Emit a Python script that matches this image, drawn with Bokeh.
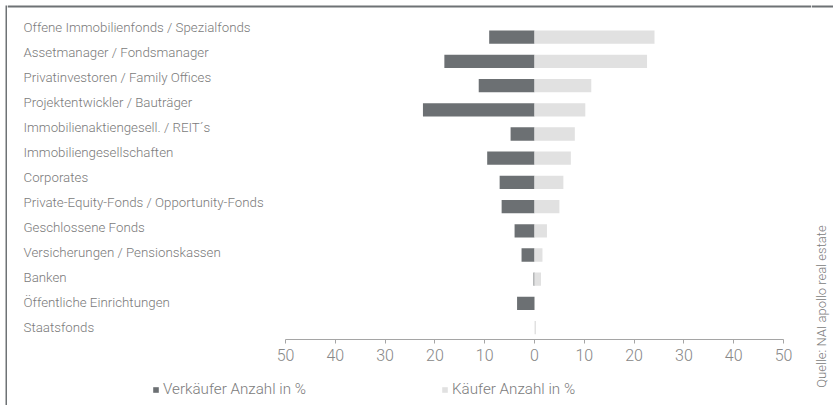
import math
from bokeh.plotting import figure
from bokeh.layouts import row, column
from bokeh.models import (Range1d, ColumnDataSource, LabelSet, Label, Legend, LegendItem,
                          FixedTicker, Span, BoxAnnotation)
from bokeh.core.properties import value
from bokeh.embed import file_html
from bokeh.resources import INLINE

# ---------------- data ----------------
categories = [
    "Offene Immobilienfonds / Spezialfonds",
    "Assetmanager / Fondsmanager",
    "Privatinvestoren / Family Offices",
    "Projektentwickler / Bauträger",
    "Immobilienaktiengesell. / REIT´s",
    "Immobiliengesellschaften",
    "Corporates",
    "Private-Equity-Fonds / Opportunity-Fonds",
    "Geschlossene Fonds",
    "Versicherungen / Pensionskassen",
    "Banken",
    "Öffentliche Einrichtungen",
    "Staatsfonds",
]
verkaeufer = [9.1, 18.1, 11.2, 22.4, 4.8, 9.5, 7.0, 6.6, 4.0, 2.6, 0.2, 3.5, 0.0]
kaeufer = [24.1, 22.6, 11.4, 10.2, 8.1, 7.3, 5.8, 5.0, 2.5, 1.6, 1.3, 0.0, 0.3]
tick_values = [-50, -40, -30, -20, -10, 0, 10, 20, 30, 40, 50]
tick_labels = ["50", "40", "30", "20", "10", "0", "10", "20", "30", "40", "50"]
series_names = ["Verkäufer Anzahl in %", "Käufer Anzahl in %"]
source_text = "Quelle: NAI apollo real estate"

# ---------------- styling ----------------
DARK = "#6c7073"
LIGHT = "#e1e1e1"
TEXT = "#7b7b7b"
AXIS = "#a5a5a5"
FRAME = "#6e7275"
FONT_S = "Roboto Light, Liberation Sans"
FONT = value(FONT_S)

H = 405
LW, CW, RW = 7, 804, 22          # left frame strip, chart, source-note strip
TOP_H, AX_H = 339, 31            # chart frame height, axis panel height
LEG_H = H - TOP_H - AX_H
n = len(categories)
pos = [n - 1 - i for i in range(n)]


def bare(width, height, xr, yr):
    f = figure(width=width, height=height, x_range=xr, y_range=yr,
               x_axis_location=None, y_axis_location=None,
               output_backend="svg", toolbar_location=None,
               min_border=0)
    f.grid.visible = False
    f.outline_line_color = None
    f.background_fill_color = "white"
    f.border_fill_color = "white"
    return f


# ---------------- main chart ----------------
bar_step, bar_top = 24.2, 36.7
lab_step, lab_top = 25.0, 27.0
y_end = (bar_top + bar_step * (n - 1)) / bar_step
y_start = y_end - TOP_H / bar_step
ly_end = (lab_top + lab_step * (n - 1)) / lab_step
ly_start = ly_end - TOP_H / lab_step

px_per_unit = 4.98
x_start = -50 - (285 - LW) / px_per_unit
x_end = x_start + CW / px_per_unit

p = figure(width=CW, height=TOP_H + AX_H, x_range=Range1d(x_start, x_end),
           y_range=Range1d(y_start, y_end), y_axis_location=None,
           output_backend="svg", toolbar_location=None,
           min_border_left=0, min_border_right=0, min_border_top=0,
           min_border_bottom=AX_H)
p.extra_y_ranges = {"lab": Range1d(ly_start, ly_end)}
p.grid.visible = False
p.outline_line_color = None
p.background_fill_color = "white"
p.border_fill_color = "white"

src = ColumnDataSource(dict(y=pos, ylab=pos, cat=categories,
                            vneg=[-v for v in verkaeufer], k=kaeufer,
                            zero=[0] * n))
bh = 13.3 / bar_step
p.hbar(y="y", left="vneg", right="zero", height=bh, source=src,
       fill_color=DARK, line_color=None)
p.hbar(y="y", left="zero", right="k", height=bh, source=src,
       fill_color=LIGHT, line_color=None)

p.add_layout(LabelSet(x=23 - LW, y="ylab", text="cat", x_units="screen",
                      y_range_name="lab", source=src, text_align="left",
                      text_baseline="middle", text_font=FONT,
                      text_font_size="13.3px", text_color=TEXT))

ax = p.xaxis[0]
ax.ticker = FixedTicker(ticks=tick_values)
ax.major_label_overrides = {t: l for t, l in zip(tick_values, tick_labels)}
ax.bounds = (-50, 50)
ax.axis_line_color = AXIS
ax.major_tick_line_color = AXIS
ax.major_tick_in = 0
ax.major_tick_out = 4
ax.minor_tick_line_color = None
ax.major_label_text_font = FONT_S
ax.major_label_text_font_size = "16px"
ax.major_label_text_color = "#888888"
ax.major_label_standoff = 5

p.add_layout(Span(location=y_end - 6 / bar_step, dimension="width",
                  line_color=FRAME, line_width=2))

# ---------------- legend strip ----------------
leg = bare(CW, LEG_H, Range1d(0, 1), Range1d(100, 101))
lv = leg.hbar(y="y", left="vneg", right="zero", height=bh, source=src,
              fill_color=DARK, line_color=None)
lk = leg.hbar(y="y", left="zero", right="k", height=bh, source=src,
              fill_color=LIGHT, line_color=None)
leg.add_layout(Legend(items=[LegendItem(label=series_names[0], renderers=[lv]),
                             LegendItem(label=series_names[1], renderers=[lk])],
                      orientation="horizontal", location=(152 - LW, 7), margin=0,
                      padding=0, spacing=135, glyph_width=7, glyph_height=7,
                      label_standoff=4, label_height=16, label_text_font=FONT_S,
                      label_text_font_size="15.2px", label_text_color=TEXT,
                      border_line_color=None, background_fill_alpha=0))

# ---------------- left frame strip ----------------
lft = bare(LW, H, Range1d(0, LW), Range1d(0, H))
lft.add_layout(BoxAnnotation(left=5, right=7, bottom=0, top=H - 5,
                             fill_color=FRAME, fill_alpha=1, line_color=None))

# ---------------- right strip with source note ----------------
rgt = bare(RW, H, Range1d(0, RW), Range1d(0, H))
rgt.add_layout(Span(location=H - 6, dimension="width", line_color=FRAME,
                    line_width=2))
rgt.add_layout(Label(x=10, y=H - 306, x_units="screen", y_units="screen",
                     text=source_text, angle=math.pi / 2, text_align="center",
                     text_baseline="middle", text_font=FONT_S,
                     text_font_size="13px", text_color=TEXT))

layout = row(lft, column(p, leg, spacing=0), rgt, spacing=0)
open("out.html", "w").write(file_html(layout, INLINE))
